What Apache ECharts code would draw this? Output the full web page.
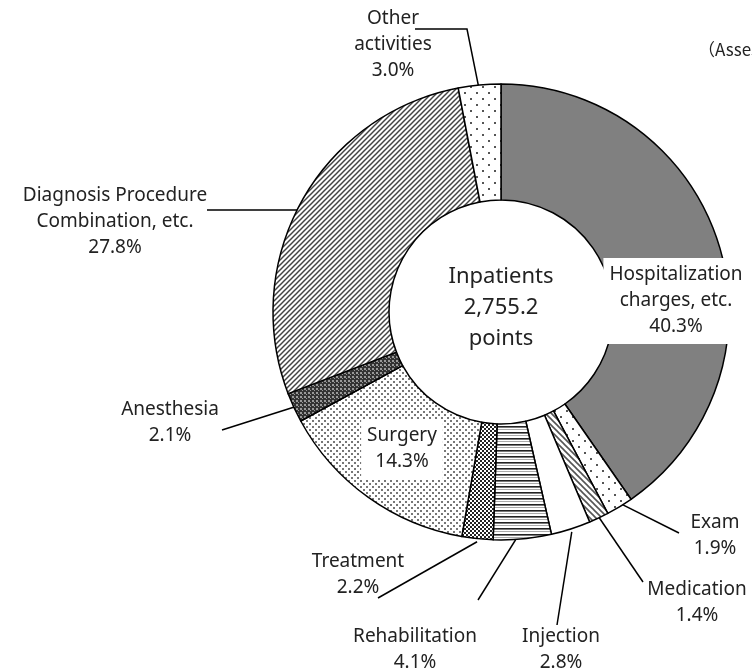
<!DOCTYPE html>
<html>
<head>
<meta charset="utf-8">
<script src="https://cdn.jsdelivr.net/npm/echarts@6/dist/echarts.min.js"></script>
<style>
  html, body { margin: 0; padding: 0; background: #fff; }
  #chart { width: 752px; height: 672px; }
</style>
</head>
<body>
<div id="chart"></div>
<script>
// data (clockwise from 12 o'clock)
const names = ['Hospitalization\ncharges, etc.', 'Exam', 'Medication', 'Injection', 'Rehabilitation',
  'Treatment', 'Surgery', 'Anesthesia', 'Diagnosis Procedure\nCombination, etc.', 'Other\nactivities']
const shares = [40.3, 1.9, 1.4, 2.8, 4.1, 2.2, 14.3, 2.1, 27.8, 3.0]
const centerText = ['Inpatients', '2,755.2', 'points']
const unitText = '（Assessment points）'

// layout
const CX = 501, CY = 312, R0 = 112, R1 = 228
// text centre, leader line bend/end points, radius where the leader starts
const labelPos = [
  { x: 676, y: 301, inside: true },
  { x: 715, y: 536, line: [[679, 533]], r: 222 },
  { x: 697, y: 603, line: [[643, 582]], r: 225 },
  { x: 561, y: 650, line: [[557, 625]], r: 231 },
  { x: 415, y: 650, line: [[478, 600]], r: 219 },
  { x: 358, y: 575, line: [[378, 598]], r: 231 },
  { x: 402, y: 449, inside: true },
  { x: 170, y: 423, line: [[222, 430]], r: 225 },
  { x: 115, y: 222, line: [[297, 210], [207, 210]], r: 205 },
  { x: 393, y: 45, line: [[467, 29], [415, 29]], r: 216 }
]

function pattern(w, h, draw) {
  const c = document.createElement('canvas')
  c.width = w; c.height = h
  const g = c.getContext('2d')
  g.fillStyle = '#fff'
  g.fillRect(0, 0, w, h)
  draw(g, w, h)
  return { image: c, repeat: 'repeat' }
}
function diag(g, w, h, color, lw, up) {
  g.strokeStyle = color; g.lineWidth = lw
  for (let k = -1; k <= 1; k++) {
    g.beginPath()
    if (up) { g.moveTo(k * w - 1, h + 1); g.lineTo(k * w + w + 1, -1) }
    else { g.moveTo(k * w - 1, -1); g.lineTo(k * w + w + 1, h + 1) }
    g.stroke()
  }
}
const sparseDots = pattern(12, 12, g => {
  g.fillStyle = '#555'; g.fillRect(2, 2, 2, 2); g.fillRect(8, 8, 2, 2)
})
const fills = [
  '#808080',
  sparseDots,
  pattern(6, 6, (g, w, h) => diag(g, w, h, '#555', 1.6, false)),
  '#fff',
  pattern(4, 6, g => { g.fillStyle = '#222'; g.fillRect(0, 0, 4, 1.6); g.fillStyle = '#aaa'; g.fillRect(0, 3, 4, 1) }),
  pattern(4, 4, g => { g.fillStyle = '#222'; g.fillRect(0, 0, 2, 2); g.fillRect(2, 2, 2, 2) }),
  pattern(6, 6, g => { g.fillStyle = '#777'; g.fillRect(0, 0, 2, 2); g.fillRect(3, 3, 2, 2) }),
  pattern(4, 4, g => { g.fillStyle = '#333'; g.fillRect(0, 0, 4, 4); g.fillStyle = '#999'; g.fillRect(0, 0, 2, 2); g.fillRect(2, 2, 1, 1) }),
  pattern(5, 5, (g, w, h) => diag(g, w, h, '#444', 1.5, true)),
  sparseDots
]

// mid angle of each slice, clockwise from top
const total = shares.reduce((a, b) => a + b, 0)
let acc = 0
const midAngles = shares.map(v => { const m = (acc + v / 2) / total * 2 * Math.PI; acc += v; return m })

const font = { fontFamily: 'Noto Sans', fontSize: 19, lineHeight: 26, color: '#222' }

const chart = echarts.init(document.getElementById('chart'))
chart.setOption({
  animation: false,
  graphic: [
    { type: 'text', x: CX, y: CY - 4, style: { text: centerText.join('\n'), align: 'center', verticalAlign: 'middle',
      fontFamily: 'Noto Sans', fontSize: 22, lineHeight: 31, fill: '#222' } },
    { type: 'text', x: 698, y: 50, style: { text: unitText, verticalAlign: 'middle',
      fontFamily: 'Noto Sans CJK JP', fontSize: 17, fill: '#222' } }
  ],
  series: [{
    type: 'pie',
    center: [CX, CY],
    radius: [R0, R1],
    startAngle: 90,
    avoidLabelOverlap: false,
    itemStyle: { borderColor: '#000', borderWidth: 1.5 },
    label: {
      show: true, position: 'outside', ...font,
      formatter: p => p.name + '\n' + p.value.toFixed(1) + '%'
    },
    labelLine: { show: true, lineStyle: { color: '#000', width: 1.5 } },
    labelLayout: p => {
      const L = labelPos[p.dataIndex]
      const out = { x: L.x, y: L.y, align: 'center', verticalAlign: 'middle' }
      if (!L.inside) {
        const a = midAngles[p.dataIndex]
        out.labelLinePoints = [[CX + L.r * Math.sin(a), CY - L.r * Math.cos(a)], ...L.line]
        if (out.labelLinePoints.length === 2) out.labelLinePoints.push(L.line[0])
      }
      return out
    },
    data: names.map((n, i) => {
      const d = { name: n, value: shares[i], itemStyle: { color: fills[i] } }
      if (labelPos[i].inside) {
        d.label = { position: 'inside', backgroundColor: '#fff', padding: [4, 6] }
        d.labelLine = { show: false }
      }
      return d
    })
  }]
})
</script>
</body>
</html>
